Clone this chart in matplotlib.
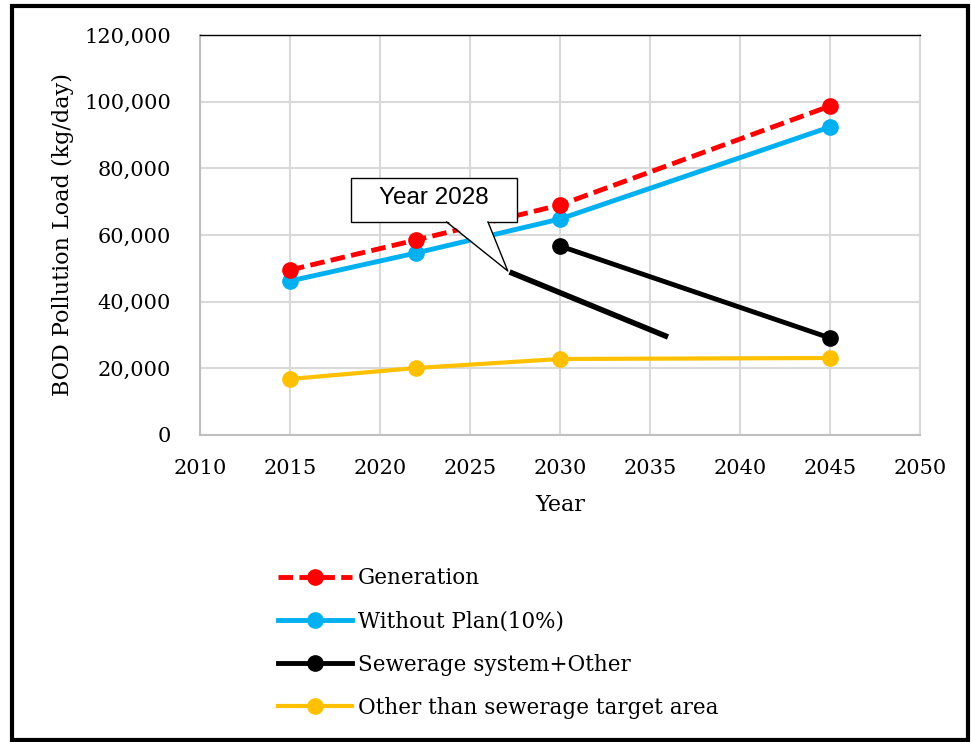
import matplotlib
matplotlib.use("Agg")
import matplotlib.pyplot as plt
from matplotlib.patches import Rectangle, Polygon
from matplotlib.lines import Line2D

years_gen = [2015, 2022, 2030, 2045]
generation = [49500, 58500, 69000, 98700]
years_wo = [2015, 2022, 2030, 2045]
without_plan = [46200, 54600, 64800, 92400]
years_sew = [2030, 2045]
sewerage = [56700, 29100]
years_other = [2015, 2022, 2030, 2045]
other_area = [16800, 20100, 22800, 23100]
callout_line_years = [2027.2, 2036.0]
callout_line_values = [48900, 29400]
callout_text = "Year 2028"

labels = ["Generation", "Without Plan(10%)", "Sewerage system+Other",
          "Other than sewerage target area"]
colors = ["#ff0000", "#00b0f0", "#000000", "#ffc000"]

serif = ["DejaVu Serif"]
MS = 11
fig = plt.figure(figsize=(9.71, 7.42), dpi=100)
ax = fig.add_axes([200/971, 1-435/742, 720/971, 400/742])

ax.plot(years_gen, generation, color=colors[0], lw=3.5, ls=(0, (3, 1.3)), marker="o", ms=MS, zorder=5)
ax.plot(years_wo, without_plan, color=colors[1], lw=3.5, marker="o", ms=MS, zorder=4)
ax.plot(years_sew, sewerage, color=colors[2], lw=3.5, marker="o", ms=MS, zorder=4)
ax.plot(years_other, other_area, color=colors[3], lw=3, marker="o", ms=MS, zorder=4)
ax.plot(callout_line_years, callout_line_values, color="black", lw=4, solid_capstyle="butt", zorder=4)

ax.set_xlim(2010, 2050)
ax.set_ylim(0, 120000)
ax.set_xticks(range(2010, 2051, 5))
ax.set_yticks(range(0, 120001, 20000))
ax.set_yticklabels([f"{v:,}" for v in range(0, 120001, 20000)])
ax.grid(True, color="#d9d9d9", lw=1.5)
ax.set_axisbelow(True)
for s in ["left", "bottom"]:
    ax.spines[s].set_color("#bfbfbf")
    ax.spines[s].set_linewidth(1.5)
ax.spines["right"].set_color("#d9d9d9")
ax.spines["right"].set_linewidth(1.5)
ax.spines["top"].set_color("black")
ax.spines["top"].set_linewidth(1)
ax.tick_params(length=0, labelsize=15)
ax.tick_params(axis="x", pad=17)
ax.tick_params(axis="y", pad=21)
for t in ax.get_xticklabels() + ax.get_yticklabels():
    t.set_family(serif)
ax.set_xlabel("Year", fontsize=16, family=serif, labelpad=12)
ax.set_ylabel("BOD Pollution Load (kg/day)", fontsize=16, family=serif, labelpad=7)

# callout
bx0, bx1, by0, by1 = 2018.4, 2027.6, 63900, 77100
ax.add_patch(Rectangle((bx0, by0), bx1-bx0, by1-by0, facecolor="white", edgecolor="black", lw=1, zorder=7))
ax.add_patch(Polygon([(2023.75, by0+300), (2027.1, 49200), (2025.95, by0+300)], closed=True,
                     facecolor="white", edgecolor="none", zorder=8))
ax.plot([2023.7, 2027.1, 2026.0], [by0, 49200, by0], color="black", lw=1, zorder=8)
ax.text((bx0+bx1)/2, (by0+by1)/2 + 500, callout_text, ha="center", va="center",
        fontsize=17.5, family=["Liberation Sans"], zorder=9)

# legend
handles = [
    Line2D([], [], color=colors[0], lw=3.5, ls=(0, (3, 1.3)), marker="o", ms=MS),
    Line2D([], [], color=colors[1], lw=3.5, marker="o", ms=MS),
    Line2D([], [], color=colors[2], lw=3.5, marker="o", ms=MS),
    Line2D([], [], color=colors[3], lw=3, marker="o", ms=MS),
]
fig.legend(handles, labels, loc="upper left", bbox_to_anchor=(259/971, 1-548/742),
           frameon=False, prop={"family": serif, "size": 15.5}, handlelength=3.4,
           labelspacing=0.98, handletextpad=0.3)

# outer frame
fig.patches.append(Rectangle((12/971, 2/742), 956/971, 734/742, transform=fig.transFigure,
                             fill=False, edgecolor="black", lw=3, zorder=10))
fig.savefig("out.png", dpi=100)
